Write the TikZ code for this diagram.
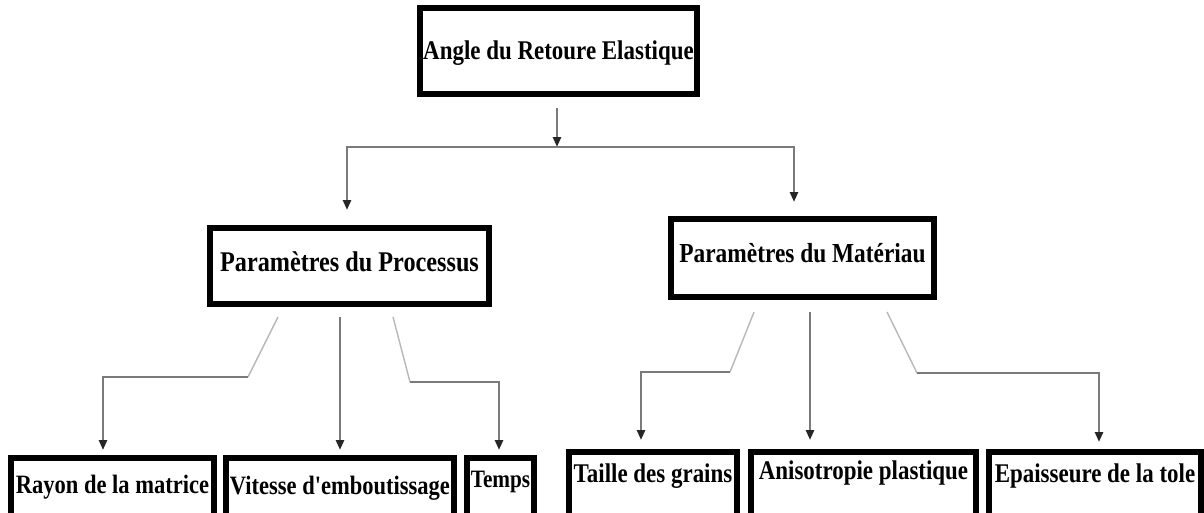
\documentclass[tikz,border=0pt]{standalone}
\usepackage{fontspec}
\newfontfamily\boxfont{Liberation Serif}[FakeStretch=0.85]
\usetikzlibrary{arrows.meta}
\tikzset{
  box/.style={draw=black, line width=6pt, fill=white, inner sep=0pt, align=center,
    font=\boxfont\bfseries\fontsize{27}{30}\selectfont},
  conn/.style={draw=black!52, line width=2.5pt},
  diag/.style={draw=black!28, line width=1.4pt},
  tip/.style={-{Triangle[length=10pt,width=8pt,color=black!85]}},
}
\begin{document}
\begin{tikzpicture}[x=1pt,y=-1pt]
\useasboundingbox (0,0) rectangle (1204,512);
\clip (0,0) rectangle (1204,512);
\fill[white] (0,0) rectangle (1204,512);

% boxes
\node[box, minimum width=277pt, minimum height=86pt, text height=20pt, text depth=4pt] (top) at (558.5,51) {Angle du Retoure Elastique};
\node[box, minimum width=279pt, minimum height=76pt, text height=15pt, text depth=5pt, font=\boxfont\bfseries\fontsize{28.5}{30}\selectfont] (proc) at (349.5,266) {Paramètres du Processus};
\node[box, minimum width=263pt, minimum height=78pt, text height=15pt, text depth=7pt, font=\boxfont\bfseries\fontsize{27.5}{30}\selectfont] (mat) at (802.5,258) {Paramètres du Matériau};

\node[box, minimum width=203pt, minimum height=82pt, text height=15pt, text depth=27pt, font=\boxfont\bfseries\fontsize{26.5}{30}\selectfont] (rayon) at (112.5,499) {Rayon de la matrice};
\node[box, minimum width=228pt, minimum height=82pt, text height=15pt, text depth=25pt, font=\boxfont\bfseries\fontsize{26.5}{30}\selectfont] (vitesse) at (340,499) {Vitesse d'emboutissage};
\node[box, minimum width=67pt, minimum height=82pt, text height=15pt, text depth=39pt, font=\boxfont\bfseries\fontsize{25}{30}\selectfont] (temps) at (500.5,499) {Temps};
\node[box, minimum width=168pt, minimum height=88pt, text height=15pt, text depth=43pt] (taille) at (653,496) {Taille des grains};
\node[box, minimum width=225pt, minimum height=88pt, text height=15pt, text depth=49pt] (aniso) at (863.5,496) {Anisotropie plastique};
\node[box, minimum width=212pt, minimum height=88pt, text height=15pt, text depth=43pt] (epais) at (1095,496) {Epaisseure de la tole};

% top split
\coordinate (t0) at (557,108);
\coordinate (tj) at (557,147);
\draw[conn, tip] (t0) -- (tj);
\draw[conn, tip, shorten >=15pt] (tj) -| ([xshift=-2.5pt]proc.north);
\draw[conn, tip, shorten >=14pt] (tj) -| ([xshift=-8.5pt]mat.north);

% process children
\coordinate (p1) at (278,317);
\coordinate (p1b) at (248,377);
\draw[diag] (p1) -- (p1b);
\draw[conn, tip, shorten >=5pt] (p1b) -| ([xshift=-9.5pt]rayon.north);
\coordinate (p2) at (340,317);
\draw[conn, tip, shorten >=5pt] (p2) -- (vitesse.north);
\coordinate (p3) at (393,317);
\coordinate (p3b) at (410,382);
\draw[diag] (p3) -- (p3b);
\draw[conn, tip, shorten >=5pt] (p3b) -| ([xshift=-1.5pt]temps.north);

% material children
\coordinate (m1) at (754,312);
\coordinate (m1b) at (730,372);
\draw[diag] (m1) -- (m1b);
\draw[conn, tip, shorten >=9pt] (m1b) -| ([xshift=-12pt]taille.north);
\coordinate (m2) at (810,312);
\draw[conn, tip, shorten >=9pt] (m2) -- ([xshift=-53.5pt]aniso.north);
\coordinate (m3) at (887,312);
\coordinate (m3b) at (917,373);
\draw[diag] (m3) -- (m3b);
\draw[conn, tip, shorten >=7pt] (m3b) -| ([xshift=4pt]epais.north);
\end{tikzpicture}
\end{document}
